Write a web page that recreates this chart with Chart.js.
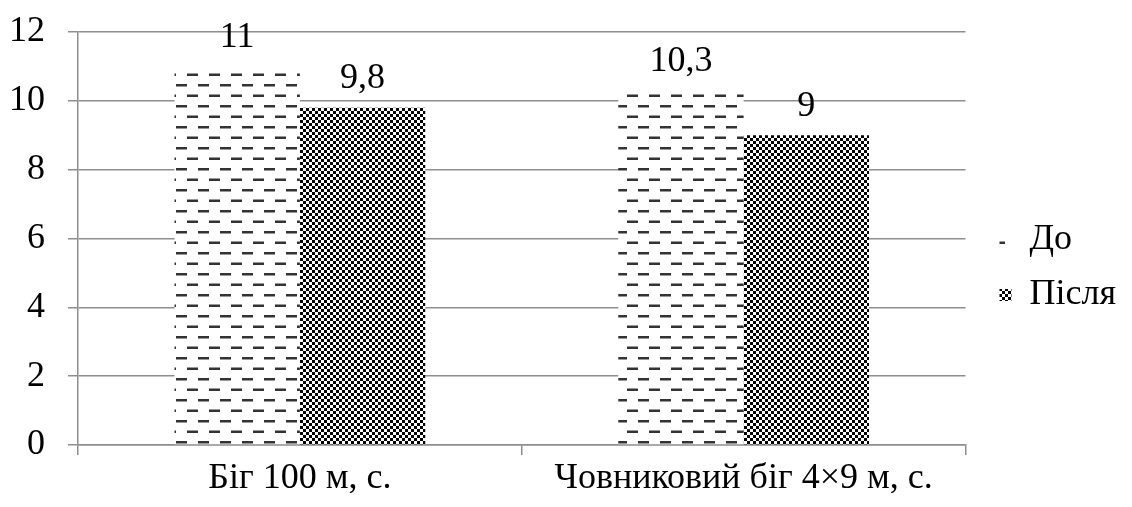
<!DOCTYPE html>
<html>
<head>
<meta charset="utf-8">
<script src="https://cdn.jsdelivr.net/npm/chart.js@4"></script>
<style>
    html, body { margin: 0; padding: 0; background: #fff; }
    #wrap { width: 1132px; height: 507px; }
</style>
</head>
<body>
<div id="wrap"><canvas id="myChart" width="1132" height="507"></canvas></div>
<script>
let categorias = ['Біг 100 м, с.', 'Човниковий біг 4×9 м, с.'];
let series = ['До', 'Після'];
let valoresAntes = [11, 10.3];
let valoresDepois = [9.8, 9];
let ticksY = [0, 2, 4, 6, 8, 10, 12];

function PadraoTracos() {
    let c = document.createElement('canvas');
    c.width = 22;
    c.height = 21;
    let ctx = c.getContext('2d');
    ctx.fillStyle = '#fff';
    ctx.fillRect(0, 0, 22, 21);
    ctx.fillStyle = '#333';
    ctx.fillRect(0, 0, 11, 2.5);
    ctx.fillRect(11, 10.5, 11, 2.5);
    return document.getElementById('myChart').getContext('2d').createPattern(c, 'repeat');
}

function PadraoXadrez() {
    let c = document.createElement('canvas');
    c.width = 6;
    c.height = 6;
    let ctx = c.getContext('2d');
    ctx.fillStyle = '#fff';
    ctx.fillRect(0, 0, 6, 6);
    ctx.fillStyle = '#000';
    ctx.fillRect(0, 0, 3, 3);
    ctx.fillRect(3, 3, 3, 3);
    return document.getElementById('myChart').getContext('2d').createPattern(c, 'repeat');
}

let fonte = { family: '"Liberation Serif", "Times New Roman", serif', size: 36 };

let rotulos = {
    id: 'rotulos',
    afterDatasetsDraw: function (chart) {
        let ctx = chart.ctx;
        ctx.save();
        ctx.font = '36px "Liberation Serif", serif';
        ctx.fillStyle = '#000';
        ctx.textAlign = 'center';
        ctx.textBaseline = 'bottom';
        chart.data.datasets.forEach(function (ds, i) {
            let meta = chart.getDatasetMeta(i);
            meta.data.forEach(function (el, n) {
                let txt = String(ds.data[n]).replace('.', ',');
                ctx.fillText(txt, el.x, el.y - 11);
            });
        });
        ctx.restore();
    }
};

// legenda mais larga e desenhada mais a direita
let espacoLegenda = {
    id: 'espacoLegenda',
    beforeInit: function (chart) {
        let legenda = chart.legend;
        if (!legenda) return;
        let fitOriginal = legenda.fit;
        let drawOriginal = legenda.draw;
        legenda.fit = function () {
            fitOriginal.call(this);
            this.width += 17;
        };
        legenda.draw = function () {
            this.ctx.save();
            this.ctx.translate(15, 0);
            drawOriginal.call(this);
            this.ctx.restore();
        };
    }
};

let dados = {
    labels: categorias,
    datasets: [{
        label: series[0],
        data: valoresAntes,
        backgroundColor: PadraoTracos(),
        borderWidth: 0
    }, {
        label: series[1],
        data: valoresDepois,
        backgroundColor: PadraoXadrez(),
        borderWidth: 0
    }]
};

let options = {
    responsive: false,
    animation: false,
    layout: { padding: { top: 0, left: 12, right: 4, bottom: 0 } },
    datasets: { bar: { categoryPercentage: 0.565, barPercentage: 1 } },
    scales: {
        x: {
            afterFit: function (axis) { axis.height = 62; },
            grid: { drawOnChartArea: false, color: '#8e8e8e', lineWidth: 1.5, tickLength: 10 },
            border: { color: '#8e8e8e', width: 1.5 },
            ticks: { color: '#000', font: fonte, padding: 2 }
        },
        y: {
            min: 0,
            max: 12,
            afterBuildTicks: function (axis) {
                axis.ticks = ticksY.map(function (v) { return { value: v }; });
            },
            afterFit: function (axis) {
                axis.width = 66;
                axis.paddingTop = 32;
            },
            grid: { color: '#8e8e8e', lineWidth: 1.5, tickLength: 10 },
            border: { color: '#8e8e8e', width: 1.5 },
            ticks: { color: '#000', font: fonte, padding: 23 }
        }
    },
    plugins: {
        legend: {
            position: 'right',
            title: { display: true, text: ' ', font: { size: 10 }, padding: 8 },
            labels: {
                color: '#000',
                font: fonte,
                boxWidth: 12,
                boxHeight: 12,
                padding: 19
            }
        },
        tooltip: { enabled: false }
    }
};

let config = {
    type: 'bar',
    data: dados,
    options: options,
    plugins: [rotulos, espacoLegenda]
};
let myChart = new Chart(document.getElementById('myChart'), config);
</script>
</body>
</html>
